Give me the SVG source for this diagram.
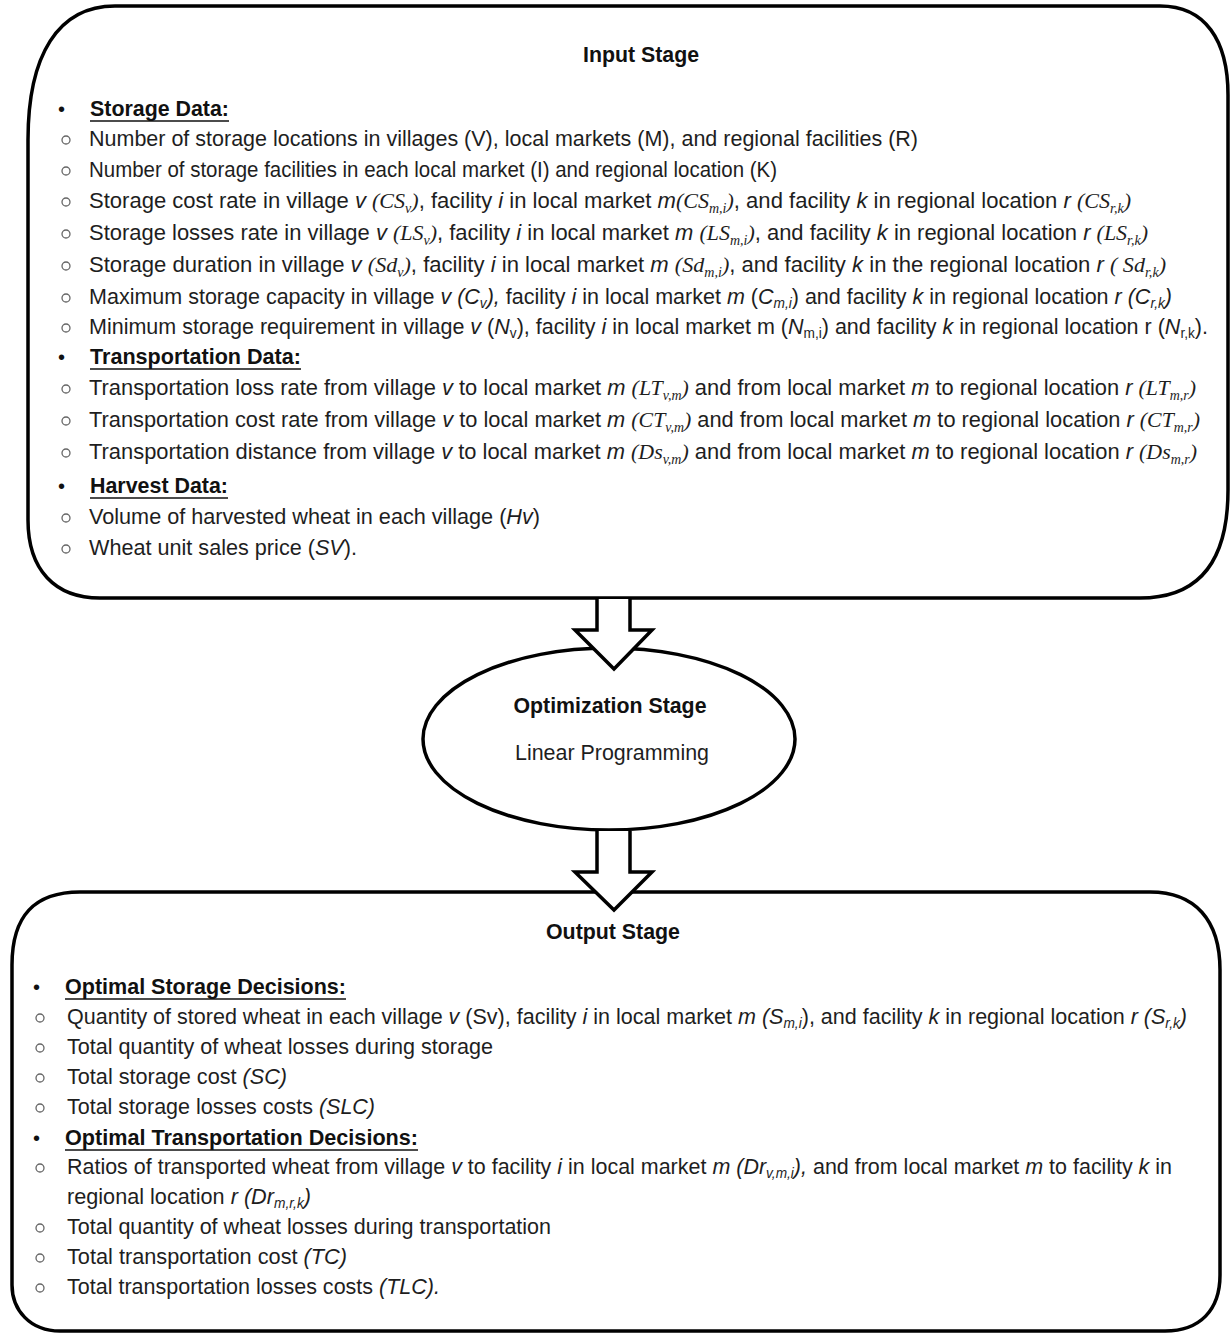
<svg xmlns="http://www.w3.org/2000/svg" width="1230" height="1334" viewBox="0 0 1230 1334">
  <style>
    .frame { fill: #fff; stroke: #000; stroke-width: 3.5; }
    .arrow { fill: #fff; stroke: #000; stroke-width: 3.5; stroke-linejoin: miter; }
    .t { font-family: "Liberation Sans", Arial, sans-serif; font-size: 22px; fill: #1e1e1e; }
    .b { font-weight: bold; fill: #111; }
    .i { font-style: italic; }
    .mt { font-family: "Liberation Serif", "DejaVu Serif", serif; font-style: italic; }
    .sub { font-size: 14px; }
    .dot { font-family: "Liberation Sans", Arial, sans-serif; font-size: 20px; fill: #111; }
    .ring { fill: none; stroke: #666; stroke-width: 1.3; }
    .ul { stroke: #111; stroke-width: 1.6; }
  </style>

  <!-- Input stage -->
  <g id="input-stage">
    <path class="frame" d="M28,140 C28,55 58,6 115,6 H1160 C1205,6 1228,40 1228,95 V490 C1228,560 1200,598 1140,598 H100 C55,598 28,570 28,520 Z"/>
    <text class="t b" x="641" y="62" text-anchor="middle" textLength="116" lengthAdjust="spacingAndGlyphs">Input Stage</text>

    <text class="dot" x="58" y="116">•</text>
    <text class="t b" x="90" y="116" textLength="139" lengthAdjust="spacingAndGlyphs">Storage Data:</text>
    <line class="ul" x1="90" y1="121" x2="229" y2="121"/>

    <circle class="ring" cx="66" cy="140" r="4"/>
    <text class="t" x="89" y="146" textLength="829" lengthAdjust="spacingAndGlyphs">Number of storage locations in villages (V), local markets (M), and regional facilities (R)</text>
    <circle class="ring" cx="66" cy="171" r="4"/>
    <text class="t" x="89" y="177" textLength="688" lengthAdjust="spacingAndGlyphs">Number of storage facilities in each local market (I) and regional location (K)</text>
    <circle class="ring" cx="66" cy="202" r="4"/>
    <text class="t" x="89" y="208" textLength="1042" lengthAdjust="spacingAndGlyphs">Storage cost rate in village <tspan class="i">v</tspan> <tspan class="mt">(CS</tspan><tspan class="mt sub" dy="5">v</tspan><tspan class="mt" dy="-5">)</tspan>, facility <tspan class="i">i</tspan> in local market <tspan class="i">m</tspan><tspan class="mt">(CS</tspan><tspan class="mt sub" dy="5">m,i</tspan><tspan class="mt" dy="-5">)</tspan>, and facility <tspan class="i">k</tspan> in regional location <tspan class="i">r</tspan> <tspan class="mt">(CS</tspan><tspan class="mt sub" dy="5">r,k</tspan><tspan class="mt" dy="-5">)</tspan></text>
    <circle class="ring" cx="66" cy="234" r="4"/>
    <text class="t" x="89" y="240" textLength="1059" lengthAdjust="spacingAndGlyphs">Storage losses rate in village <tspan class="i">v</tspan> <tspan class="mt">(LS</tspan><tspan class="mt sub" dy="5">v</tspan><tspan class="mt" dy="-5">)</tspan>, facility <tspan class="i">i</tspan> in local market <tspan class="i">m</tspan> <tspan class="mt">(LS</tspan><tspan class="mt sub" dy="5">m,i</tspan><tspan class="mt" dy="-5">)</tspan>, and facility <tspan class="i">k</tspan> in regional location <tspan class="i">r</tspan> <tspan class="mt">(LS</tspan><tspan class="mt sub" dy="5">r,k</tspan><tspan class="mt" dy="-5">)</tspan></text>
    <circle class="ring" cx="66" cy="266" r="4"/>
    <text class="t" x="89" y="272" textLength="1077" lengthAdjust="spacingAndGlyphs">Storage duration in village <tspan class="i">v</tspan> <tspan class="mt">(Sd</tspan><tspan class="mt sub" dy="5">v</tspan><tspan class="mt" dy="-5">)</tspan>, facility <tspan class="i">i</tspan> in local market <tspan class="i">m</tspan> <tspan class="mt">(Sd</tspan><tspan class="mt sub" dy="5">m,i</tspan><tspan class="mt" dy="-5">)</tspan>, and facility <tspan class="i">k</tspan> in the regional location <tspan class="i">r</tspan> <tspan class="mt">( Sd</tspan><tspan class="mt sub" dy="5">r,k</tspan><tspan class="mt" dy="-5">)</tspan></text>
    <circle class="ring" cx="66" cy="298" r="4"/>
    <text class="t" x="89" y="304" textLength="1083" lengthAdjust="spacingAndGlyphs">Maximum storage capacity in village <tspan class="i">v (C</tspan><tspan class="i sub" dy="4">v</tspan><tspan class="i" dy="-4">),</tspan> facility <tspan class="i">i</tspan> in local market <tspan class="i">m</tspan> (<tspan class="i">C</tspan><tspan class="i sub" dy="4">m,i</tspan><tspan dy="-4">)</tspan> and facility <tspan class="i">k</tspan> in regional location <tspan class="i">r (C</tspan><tspan class="i sub" dy="4">r,k</tspan><tspan class="i" dy="-4">)</tspan></text>
    <circle class="ring" cx="66" cy="328" r="4"/>
    <text class="t" x="89" y="334" textLength="1119" lengthAdjust="spacingAndGlyphs">Minimum storage requirement in village <tspan class="i">v</tspan> (<tspan class="i">N</tspan><tspan class="sub" dy="4">v</tspan><tspan dy="-4">),</tspan> facility <tspan class="i">i</tspan> in local market m (<tspan class="i">N</tspan><tspan class="sub" dy="4">m,i</tspan><tspan dy="-4">)</tspan> and facility <tspan class="i">k</tspan> in regional location r (<tspan class="i">N</tspan><tspan class="sub" dy="4">r,k</tspan><tspan dy="-4">).</tspan></text>

    <text class="dot" x="58" y="364">•</text>
    <text class="t b" x="90" y="364" textLength="211" lengthAdjust="spacingAndGlyphs">Transportation Data:</text>
    <line class="ul" x1="90" y1="369" x2="301" y2="369"/>

    <circle class="ring" cx="66" cy="389" r="4"/>
    <text class="t" x="89" y="395" textLength="1107" lengthAdjust="spacingAndGlyphs">Transportation loss rate  from village <tspan class="i">v</tspan> to local market <tspan class="i">m</tspan>  <tspan class="mt">(LT</tspan><tspan class="mt sub" dy="5">v,m</tspan><tspan class="mt" dy="-5">)</tspan> and from local market <tspan class="i">m</tspan> to regional location <tspan class="i">r</tspan> <tspan class="mt">(LT</tspan><tspan class="mt sub" dy="5">m,r</tspan><tspan class="mt" dy="-5">)</tspan></text>
    <circle class="ring" cx="66" cy="421" r="4"/>
    <text class="t" x="89" y="427" textLength="1111" lengthAdjust="spacingAndGlyphs">Transportation cost rate from village <tspan class="i">v</tspan> to local market <tspan class="i">m</tspan> <tspan class="mt">(CT</tspan><tspan class="mt sub" dy="5">v,m</tspan><tspan class="mt" dy="-5">)</tspan> and from local market <tspan class="i">m</tspan> to regional location <tspan class="i">r</tspan> <tspan class="mt">(CT</tspan><tspan class="mt sub" dy="5">m,r</tspan><tspan class="mt" dy="-5">)</tspan></text>
    <circle class="ring" cx="66" cy="453" r="4"/>
    <text class="t" x="89" y="459" textLength="1108" lengthAdjust="spacingAndGlyphs">Transportation distance  from village <tspan class="i">v</tspan> to local market <tspan class="i">m</tspan> <tspan class="mt">(Ds</tspan><tspan class="mt sub" dy="5">v,m</tspan><tspan class="mt" dy="-5">)</tspan> and from local market <tspan class="i">m</tspan> to regional location <tspan class="i">r</tspan> <tspan class="mt">(Ds</tspan><tspan class="mt sub" dy="5">m,r</tspan><tspan class="mt" dy="-5">)</tspan></text>

    <text class="dot" x="58" y="493">•</text>
    <text class="t b" x="90" y="493" textLength="138" lengthAdjust="spacingAndGlyphs">Harvest Data:</text>
    <line class="ul" x1="90" y1="498" x2="228" y2="498"/>

    <circle class="ring" cx="66" cy="518" r="4"/>
    <text class="t" x="89" y="524" textLength="451" lengthAdjust="spacingAndGlyphs">Volume of harvested wheat in each village (<tspan class="i">Hv</tspan>)</text>
    <circle class="ring" cx="66" cy="549" r="4"/>
    <text class="t" x="89" y="555" textLength="268" lengthAdjust="spacingAndGlyphs">Wheat unit sales price (<tspan class="i">SV</tspan>).</text>
  </g>

  <!-- Optimization stage -->
  <g id="optimization-stage">
    <ellipse class="frame" cx="609" cy="739" rx="186" ry="91"/>
    <text class="t b" x="610" y="713" text-anchor="middle" textLength="193" lengthAdjust="spacingAndGlyphs">Optimization Stage</text>
    <text class="t" x="612" y="760" text-anchor="middle" textLength="194" lengthAdjust="spacingAndGlyphs">Linear Programming</text>
  </g>

  <!-- Output stage -->
  <g id="output-stage">
    <path class="frame" d="M12,965 C12,915 35,892 80,892 H1150 C1195,892 1220,920 1220,970 V1275 C1220,1310 1200,1331 1165,1331 H60 C30,1331 12,1310 12,1285 Z"/>
    <text class="t b" x="613" y="939" text-anchor="middle" textLength="134" lengthAdjust="spacingAndGlyphs">Output Stage</text>

    <text class="dot" x="33" y="994">•</text>
    <text class="t b" x="65" y="994" textLength="281" lengthAdjust="spacingAndGlyphs">Optimal Storage Decisions:</text>
    <line class="ul" x1="65" y1="999" x2="346" y2="999"/>

    <circle class="ring" cx="40" cy="1018" r="4"/>
    <text class="t" x="67" y="1024" textLength="1120" lengthAdjust="spacingAndGlyphs">Quantity of stored wheat in each village <tspan class="i">v</tspan> (Sv), facility <tspan class="i">i</tspan> in local market <tspan class="i">m</tspan> <tspan class="i">(S</tspan><tspan class="i sub" dy="4">m,i</tspan><tspan dy="-4">),</tspan> and facility <tspan class="i">k</tspan> in regional location <tspan class="i">r (S</tspan><tspan class="i sub" dy="4">r,k</tspan><tspan class="i" dy="-4">)</tspan></text>
    <circle class="ring" cx="40" cy="1048" r="4"/>
    <text class="t" x="67" y="1054" textLength="426" lengthAdjust="spacingAndGlyphs">Total quantity of wheat losses during storage</text>
    <circle class="ring" cx="40" cy="1078" r="4"/>
    <text class="t" x="67" y="1084" textLength="220" lengthAdjust="spacingAndGlyphs">Total storage cost <tspan class="i">(SC)</tspan></text>
    <circle class="ring" cx="40" cy="1108" r="4"/>
    <text class="t" x="67" y="1114" textLength="308" lengthAdjust="spacingAndGlyphs">Total storage losses costs <tspan class="i">(SLC)</tspan></text>

    <text class="dot" x="33" y="1145">•</text>
    <text class="t b" x="65" y="1145" textLength="353" lengthAdjust="spacingAndGlyphs">Optimal Transportation Decisions:</text>
    <line class="ul" x1="65" y1="1150" x2="418" y2="1150"/>

    <circle class="ring" cx="40" cy="1168" r="4"/>
    <text class="t" x="67" y="1174" textLength="1105" lengthAdjust="spacingAndGlyphs">Ratios of transported wheat from village  <tspan class="i">v</tspan> to facility <tspan class="i">i</tspan> in local market <tspan class="i">m</tspan>  <tspan class="i">(Dr</tspan><tspan class="i sub" dy="4">v,m,i</tspan><tspan class="i" dy="-4">),</tspan> and from local market <tspan class="i">m</tspan> to facility <tspan class="i">k</tspan> in</text>
    <text class="t" x="67" y="1204" textLength="244" lengthAdjust="spacingAndGlyphs">regional location <tspan class="i">r (Dr</tspan><tspan class="i sub" dy="4">m,r,k</tspan><tspan class="i" dy="-4">)</tspan></text>
    <circle class="ring" cx="40" cy="1228" r="4"/>
    <text class="t" x="67" y="1234" textLength="484" lengthAdjust="spacingAndGlyphs">Total quantity of wheat losses during transportation</text>
    <circle class="ring" cx="40" cy="1258" r="4"/>
    <text class="t" x="67" y="1264" textLength="280" lengthAdjust="spacingAndGlyphs">Total transportation cost <tspan class="i">(TC)</tspan></text>
    <circle class="ring" cx="40" cy="1288" r="4"/>
    <text class="t" x="67" y="1294" textLength="373" lengthAdjust="spacingAndGlyphs">Total transportation losses costs <tspan class="i">(TLC).</tspan></text>
  </g>

  <!-- Block arrows between stages -->
  <g id="connectors">
    <path class="arrow" d="M597,599 V630 H575 L614,669 L652,630 H630 V599"/>
    <path class="arrow" d="M597,831 V872 H575 L614,910 L652,872 H630 V831"/>
  </g>
</svg>
